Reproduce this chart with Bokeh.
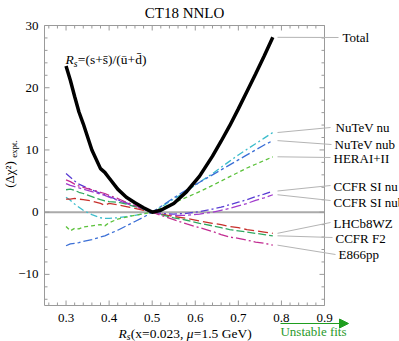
import math
from bokeh.plotting import figure
from bokeh.models import Range1d, Arrow, NormalHead
from bokeh.embed import file_html
from bokeh.resources import INLINE
from bokeh.core.properties import value

# ---------------- data ----------------
rs = [0.30, 0.31, 0.32, 0.33, 0.34, 0.36, 0.38, 0.39, 0.40, 0.42, 0.44, 0.46, 0.48,
      0.50, 0.52, 0.55, 0.58, 0.61, 0.64, 0.66, 0.68, 0.70, 0.72, 0.74, 0.76, 0.78]

total = [23.5, 21.2, 18.6, 16.1, 14.2, 10.0, 7.0, 6.4, 5.5, 3.7, 2.4, 1.5, 0.7,
         0.0, 0.3, 1.4, 3.3, 5.8, 9.0, 11.4, 13.9, 16.6, 19.4, 22.2, 25.1, 28.1]
nutev_nu = [2.4, 1.9, 1.3, 0.8, 0.3, -0.4, -0.9, -1.0, -1.0, -0.9, -0.7, -0.5, -0.25,
            0.0, 0.8, 2.1, 3.4, 4.8, 6.2, 7.2, 8.2, 9.2, 10.1, 11.0, 11.9, 12.8]
nutev_nub = [-5.4, -5.1, -5.0, -4.9, -4.7, -4.4, -4.0, -3.8, -3.5, -2.9, -2.2, -1.5, -0.8,
             0.0, 0.9, 2.3, 3.6, 4.8, 6.0, 6.8, 7.6, 8.4, 9.2, 10.0, 10.8, 11.5]
hera = [-2.3, -3.0, -2.6, -2.7, -2.4, -2.2, -2.0, -2.2, -1.7, -1.1, -0.8, -0.5, -0.25,
        0.0, 0.6, 1.5, 2.4, 3.3, 4.3, 5.0, 5.7, 6.4, 7.1, 7.7, 8.3, 8.9]
ccfr_si_nu = [6.2, 5.6, 5.0, 4.5, 4.2, 3.6, 3.0, 2.8, 2.5, 2.0, 1.5, 1.0, 0.5,
              0.0, -0.2, -0.3, -0.2, 0.1, 0.5, 0.8, 1.2, 1.6, 2.0, 2.5, 2.9, 3.4]
ccfr_si_nub = [4.6, 4.3, 4.1, 3.9, 3.7, 3.3, 2.9, 2.7, 2.4, 1.9, 1.4, 0.9, 0.45,
               0.0, -0.3, -0.5, -0.5, -0.3, 0.0, 0.3, 0.6, 1.0, 1.4, 1.9, 2.3, 2.8]
lhcb = [2.1, 2.1, 2.2, 2.1, 2.0, 1.8, 1.4, 1.1, 1.4, 1.2, 0.9, 0.6, 0.3,
        0.0, -0.3, -0.7, -1.0, -1.4, -1.8, -2.0, -2.3, -2.5, -2.8, -3.0, -3.2, -3.4]
ccfr_f2 = [3.6, 3.7, 3.5, 3.2, 3.0, 2.5, 2.0, 1.8, 1.7, 1.6, 1.3, 0.9, 0.5,
           0.0, -0.4, -0.9, -1.3, -1.8, -2.2, -2.5, -2.8, -3.0, -3.2, -3.4, -3.6, -3.8]
e866 = [5.2, 4.9, 4.5, 4.2, 4.0, 3.6, 3.2, 3.0, 2.7, 2.2, 1.6, 1.1, 0.5,
        0.0, -0.5, -1.2, -1.9, -2.5, -3.1, -3.6, -4.0, -4.2, -4.5, -4.8, -5.0, -5.3]

names = ["Total", "NuTeV nu", "NuTeV nub", "HERAI+II", "CCFR SI nu", "CCFR SI nub",
         "LHCb8WZ", "CCFR F2", "E866pp"]
x_ticks = [0.3, 0.4, 0.5, 0.6, 0.7, 0.8, 0.9]
x_tick_labels = ["0.3", "0.4", "0.5", "0.6", "0.7", "0.8", "0.9"]
x_minor = [0.26, 0.28, 0.32, 0.34, 0.36, 0.38, 0.42, 0.44, 0.46, 0.48, 0.52, 0.54, 0.56,
           0.58, 0.62, 0.64, 0.66, 0.68, 0.72, 0.74, 0.76, 0.78, 0.82, 0.84, 0.86, 0.88]
y_ticks = [-10, 0, 10, 20, 30]
y_tick_labels = ["\u221210", "0", "10", "20", "30"]
y_minor = [-14, -12, -8, -6, -4, -2, 2, 4, 6, 8, 12, 14, 16, 18, 22, 24, 26, 28]
XMIN, XMAX, YMIN, YMAX = 0.25, 0.9, -15, 30

# ---------------- layout helpers (page pixels -> data) ----------------
W, H = 399, 341
FL, FR, FT, FB = 44, 324, 25, 305          # frame edges in pixels
SX = (FR - FL) / (XMAX - XMIN)
SY = (FB - FT) / (YMAX - YMIN)


def X(px):
    return XMIN + (px - FL) / SX


def Y(py):
    return YMAX - (py - FT) / SY


FONT = "Liberation Serif"
styles = {
    "NuTeV nu":    ("#3dbdcc", "7 3 2 3"),
    "NuTeV nub":   ("#3b6fd6", "9 3 3 3"),
    "HERAI+II":    ("#5cc23c", "4 3"),
    "CCFR SI nu":  ("#5a3ed4", "8 3 2 3"),
    "CCFR SI nub": ("#a23ccc", "10 3 3 3"),
    "LHCb8WZ":     ("#c8302c", "10 4"),
    "CCFR F2":     ("#2ea860", "8 3"),
    "E866pp":      ("#c22c92", "10 3 2 3"),
}
series = {
    "Total": total, "NuTeV nu": nutev_nu, "NuTeV nub": nutev_nub, "HERAI+II": hera,
    "CCFR SI nu": ccfr_si_nu, "CCFR SI nub": ccfr_si_nub, "LHCb8WZ": lhcb,
    "CCFR F2": ccfr_f2, "E866pp": e866,
}
# label (left x, centre y) and connector end, in page pixels
label_px = {
    "Total": (342, 37, 338, 37),
    "NuTeV nu": (335, 127, 330, 127),
    "NuTeV nub": (334, 144, 331, 144),
    "HERAI+II": (333, 158, 330, 157),
    "CCFR SI nu": (333, 186, 330, 185),
    "CCFR SI nub": (333, 202, 330, 200),
    "LHCb8WZ": (333, 223, 330, 222),
    "CCFR F2": (335, 238, 332, 237),
    "E866pp": (338, 254, 335, 254),
}

p = figure(width=W, height=H, output_backend="svg", toolbar_location=None,
           x_range=Range1d(X(0), X(W)), y_range=Range1d(Y(H), Y(0)),
           x_axis_type=None, y_axis_type=None, min_border=0)
p.grid.visible = False
p.outline_line_color = None
p.background_fill_color = "white"
p.border_fill_color = "white"

FRAME_COL = "#9a9a9a"


def txt(x, y, s, size="13px", align="left", base="middle", style="normal", color="black",
        angle=0.0):
    p.text(x=[x], y=[y], text=[s], text_font=value(FONT), text_font_size=value(size),
           text_align=align, text_baseline=base, text_font_style=style, text_color=color,
           angle=angle)


# zero line
p.segment(x0=[XMIN], y0=[0], x1=[XMAX], y1=[0], line_color="#aaaaaa", line_width=2)

# curves
for nm in names[1:]:
    col, dash = styles[nm]
    p.line(rs, series[nm], line_color=col, line_width=1.3, line_dash=dash)
p.line(rs, total, line_color="black", line_width=3.5)

# frame
p.segment(x0=[XMIN, XMIN, XMIN, XMAX], y0=[YMIN, YMAX, YMIN, YMIN],
          x1=[XMAX, XMAX, XMIN, XMAX], y1=[YMIN, YMAX, YMAX, YMAX],
          line_color=FRAME_COL, line_width=1)

# ticks (inward, all four sides)
maj_x, min_x = 5 / SX, 3 / SX
maj_y, min_y = 5 / SY, 3 / SY
tx = x_ticks + x_minor
tl = [maj_y] * len(x_ticks) + [min_y] * len(x_minor)
p.segment(x0=tx, y0=[YMIN] * len(tx), x1=tx, y1=[YMIN + l for l in tl],
          line_color=FRAME_COL, line_width=1)
p.segment(x0=tx, y0=[YMAX] * len(tx), x1=tx, y1=[YMAX - l for l in tl],
          line_color=FRAME_COL, line_width=1)
ty = y_ticks + y_minor
ll = [maj_x] * len(y_ticks) + [min_x] * len(y_minor)
p.segment(x0=[XMIN] * len(ty), y0=ty, x1=[XMIN + l for l in ll], y1=ty,
          line_color=FRAME_COL, line_width=1)
p.segment(x0=[XMAX] * len(ty), y0=ty, x1=[XMAX - l for l in ll], y1=ty,
          line_color=FRAME_COL, line_width=1)

# tick labels
p.text(x=x_ticks, y=[Y(FB + 12)] * len(x_ticks), text=x_tick_labels, text_font=value(FONT),
       text_font_size=value("13px"), text_align="center", text_baseline="middle")
p.text(x=[X(FL - 6)] * len(y_ticks), y=y_ticks, text=y_tick_labels, text_font=value(FONT),
       text_font_size=value("13px"), text_align="right", text_baseline="middle")

# series labels + connectors
for nm in names:
    lx, ly, cx, cy = label_px[nm]
    p.segment(x0=[X(277)], y0=[series[nm][-1]], x1=[X(cx)], y1=[Y(cy)],
              line_color="#b4b4b4", line_width=1)
    txt(X(lx), Y(ly), nm)

# title
txt(X(184), Y(12), "CT18 NNLO", size="15px", align="center")

# in-plot formula
txt(X(65), Y(59), "R", size="13.5px", style="italic")
txt(X(73.3), Y(63), "s", size="9.5px", style="italic")
txt(X(77.3), Y(59), "=(s+s\u0304)/(\u016b+d\u0304)", size="13.5px")

# x-axis label
txt(X(118), Y(333), "R", size="13.5px", style="italic")
txt(X(126.3), Y(336.5), "s", size="9.5px", style="italic")
txt(X(130.3), Y(333), "(x=0.023, ", size="13.5px")
txt(X(186.3), Y(333), "\u03bc", size="13.5px", style="italic")
txt(X(193.3), Y(333), "=1.5 GeV)", size="13.5px")

# y-axis label (rotated)
txt(X(8.5), Y(174), "(\u0394\u03c7\u00b2)", size="13px", align="center", angle=math.pi / 2)
txt(X(13), Y(148.5), "expt.", size="9px", align="center", angle=math.pi / 2)

# unstable fits arrow
p.add_layout(Arrow(end=NormalHead(size=9, fill_color="#1f9e1f", line_color="#1f9e1f"),
                   x_start=X(280), y_start=Y(323), x_end=X(348), y_end=Y(323),
                   line_color="#1f9e1f", line_width=1.2))
txt(X(313), Y(331), "Unstable fits", color="#2a9a2a", align="center")

open("out.html", "w").write(file_html(p, INLINE))
